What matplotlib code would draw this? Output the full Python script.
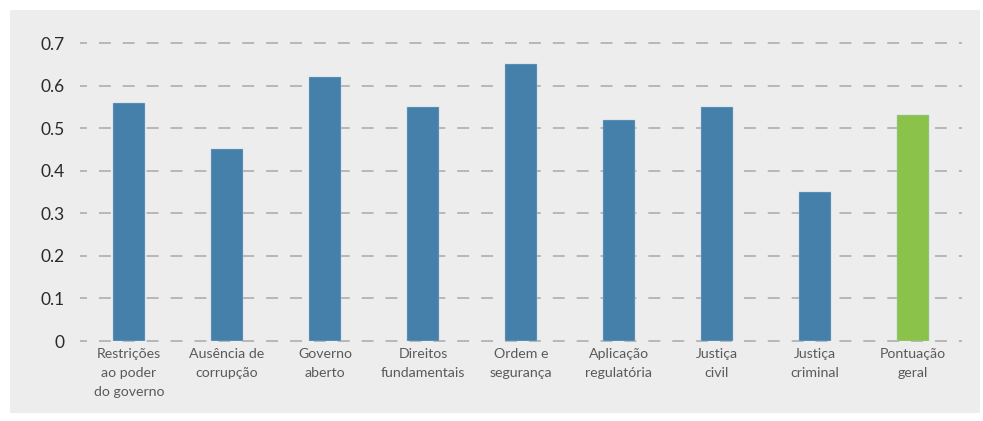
import matplotlib
matplotlib.use("Agg")
import matplotlib.pyplot as plt
from matplotlib.patches import Rectangle

plt.rcParams["lines.scale_dashes"] = False

categories = [
    "Restrições\nao poder\ndo governo",
    "Ausência de\ncorrupção",
    "Governo\naberto",
    "Direitos\nfundamentais",
    "Ordem e\nsegurança",
    "Aplicação\nregulatória",
    "Justiça\ncivil",
    "Justiça\ncriminal",
    "Pontuação\ngeral",
]
scores = [0.56, 0.45, 0.62, 0.55, 0.65, 0.52, 0.55, 0.35, 0.53]
bar_colors = ["#4480aa"] * 8 + ["#8bc34a"]
y_ticks = [0, 0.1, 0.2, 0.3, 0.4, 0.5, 0.6, 0.7]
y_tick_labels = ["0", "0.1", "0.2", "0.3", "0.4", "0.5", "0.6", "0.7"]

W, H = 983, 421
fig = plt.figure(figsize=(W / 100, H / 100), dpi=100)
fig.patch.set_facecolor("white")

# light grey panel behind the chart
fig.patches.append(Rectangle((10 / W, 1 - 413 / H), 970 / W, 403 / H,
                             transform=fig.transFigure, facecolor="#ededed",
                             edgecolor="none", zorder=-5))

ax = fig.add_axes([80 / W, 1 - 341 / H, 882 / W, 298 / H])
ax.set_facecolor("none")

x = list(range(len(categories)))
ax.bar(x, scores, width=0.32, color=bar_colors, edgecolor="#a9c6da",
       linewidth=0.3, zorder=3)

for yv in y_ticks:
    ax.axhline(yv, color="#b3b3b3", linewidth=1.3, clip_on=False, zorder=1,
               linestyle=(3.6, (8.6, 8.6)))

ax.set_xlim(-0.5, 8.5)
ax.set_ylim(0, 0.7)
ax.set_yticks(y_ticks)
ax.set_yticklabels(y_tick_labels, fontsize=12.5, color="#2a2a2a",
                   family=["Lato", "DejaVu Sans"])
ax.set_xticks(x)
ax.set_xticklabels(categories, fontsize=10.2, color="#5a5a5a",
                   family=["Lato", "DejaVu Sans"], linespacing=1.7)
ax.tick_params(axis="y", length=0, pad=11)
ax.tick_params(axis="x", length=0, pad=5)
for s in ax.spines.values():
    s.set_visible(False)

fig.savefig("out.png", dpi=100)
